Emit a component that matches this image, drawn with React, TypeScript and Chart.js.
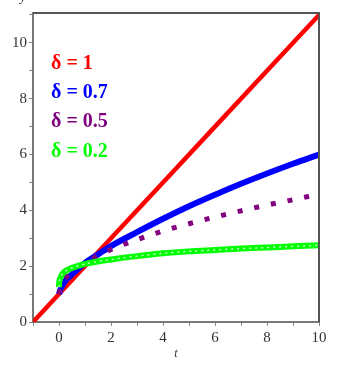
import React, { useEffect, useRef } from "react";
import { Chart, registerables } from "chart.js";

Chart.register(...registerables);

// Data
const tRed = [-1, 0, 2, 4, 6, 8, 10];
const yRed = [0, 1, 3, 5, 7, 9, 11];

const tBlue = [0, 0.05, 0.1, 0.2, 0.4, 0.7, 1, 1.5, 2, 3, 4, 5, 6, 7, 8, 9, 10];
const yBlue = [1.0, 1.15, 1.25, 1.42, 1.62, 1.87, 2.12, 2.42, 2.72, 3.22, 3.7, 4.15, 4.56, 4.95, 5.32, 5.67, 6.0];

const tPurple = [0, 0.1, 0.3, 0.6, 1, 1.5, 2, 3, 4, 5, 6, 7, 8, 9, 10];
const yPurple = [1.0, 1.36, 1.62, 1.87, 2.13, 2.38, 2.6, 2.95, 3.26, 3.52, 3.76, 3.98, 4.19, 4.38, 4.58];

const tGreen = [0, 0.005, 0.02, 0.05, 0.1, 0.2, 0.4, 0.7, 1, 1.5, 2, 3, 4, 5, 6, 7, 8, 9, 10];
const yGreen = [1.25, 1.38, 1.48, 1.57, 1.68, 1.79, 1.9, 2.0, 2.08, 2.17, 2.24, 2.36, 2.46, 2.53, 2.58, 2.63, 2.67, 2.71, 2.75];

const legendLabels = ["δ = 1", "δ = 0.7", "δ = 0.5", "δ = 0.2"];
const seriesColors = ["#ff0000", "#0000ff", "#800080", "#00ff00"];

const xTickValues = [-1, 0, 1, 2, 3, 4, 5, 6, 7, 8, 9, 10];
const yTickValues = [0, 1, 2, 3, 4, 5, 6, 7, 8, 9, 10, 11];

const pts = (xs: number[], ys: number[]) => xs.map((x, i) => ({ x, y: ys[i] }));

const framePlugin = {
  id: "frame",
  afterDraw(chart: any) {
    const { ctx, chartArea } = chart;
    ctx.save();
    ctx.lineWidth = 2;
    ctx.strokeStyle = "#555555";
    ctx.beginPath();
    ctx.moveTo(chartArea.left, chartArea.top);
    ctx.lineTo(chartArea.right, chartArea.top);
    ctx.lineTo(chartArea.right, chartArea.bottom);
    ctx.stroke();
    // legend text
    ctx.font = "bold 20px 'Liberation Serif', serif";
    ctx.textBaseline = "alphabetic";
    ctx.textAlign = "left";
    const baselines = [68.5, 97.5, 127, 157];
    legendLabels.forEach((lab, i) => {
      ctx.fillStyle = seriesColors[i];
      ctx.fillText(lab, 51, baselines[i]);
    });
    // cut-off y axis title
    ctx.fillStyle = "#333333";
    ctx.font = "italic 13px 'Liberation Serif', serif";
    ctx.fillText("y", 20, 1);
    ctx.restore();
  },
};

export default function App() {
  const ref = useRef<HTMLCanvasElement>(null);
  useEffect(() => {
    document.body.style.margin = "0";
    const chart = new Chart(ref.current!, {
      type: "scatter",
      data: {
        datasets: [
          {
            data: pts(tRed, yRed),
            showLine: true,
            borderColor: seriesColors[0],
            borderWidth: 4.5,
            pointRadius: 0,
            order: 5,
          },
          {
            data: pts(tBlue, yBlue),
            showLine: true,
            borderColor: seriesColors[1],
            borderWidth: 6,
            pointRadius: 0,
            cubicInterpolationMode: "monotone",
            order: 4,
          },
          {
            data: pts(tPurple, yPurple),
            showLine: true,
            borderColor: seriesColors[2],
            borderWidth: 5,
            borderDash: [5, 12],
            borderCapStyle: "butt",
            pointRadius: 0,
            cubicInterpolationMode: "monotone",
            order: 3,
          },
          {
            data: pts(tGreen, yGreen),
            showLine: true,
            borderColor: seriesColors[3],
            borderWidth: 6,
            pointRadius: 0,
            cubicInterpolationMode: "monotone",
            order: 2,
          },
          {
            data: pts(tGreen, yGreen),
            showLine: true,
            borderColor: "#c8ffc8",
            borderWidth: 1.5,
            borderDash: [2, 4],
            pointRadius: 0,
            cubicInterpolationMode: "monotone",
            order: 1,
          },
        ],
      } as any,
      options: {
        animation: false,
        responsive: false,
        maintainAspectRatio: false,
        layout: { padding: { top: 13, right: 19, left: 0, bottom: 0 } },
        plugins: { legend: { display: false }, tooltip: { enabled: false } },
        scales: {
          x: {
            type: "linear",
            min: -1,
            max: 10,
            afterBuildTicks: (s: any) => {
              s.ticks = xTickValues.map((v) => ({ value: v }));
            },
            afterFit: (s: any) => {
              s.height = 46;
            },
            ticks: {
              autoSkip: false,
              maxRotation: 0,
              padding: 3,
              color: "#333333",
              font: { family: "'Liberation Serif', serif", size: 15 },
              callback: (v: any) => (Number(v) >= 0 && Number(v) % 2 === 0 ? String(v) : ""),
            },
            grid: { drawOnChartArea: false, drawTicks: true, tickLength: 4, color: "#888888" },
            border: { display: true, color: "#777777", width: 2 },
            title: {
              display: true,
              text: "t",
              color: "#333333",
              font: { family: "'Liberation Serif', serif", size: 12, style: "italic" },
              padding: { top: 0, bottom: 7 },
            },
          },
          y: {
            type: "linear",
            min: 0,
            max: 11.07,
            afterBuildTicks: (s: any) => {
              s.ticks = yTickValues.map((v) => ({ value: v }));
            },
            afterFit: (s: any) => {
              s.width = 33;
            },
            ticks: {
              autoSkip: false,
              padding: 2,
              color: "#333333",
              font: { family: "'Liberation Serif', serif", size: 15 },
              callback: (v: any) => (Number(v) % 2 === 0 ? String(v) : ""),
            },
            grid: { drawOnChartArea: false, drawTicks: true, tickLength: 4, color: "#888888" },
            border: { display: true, color: "#777777", width: 2 },
          },
        },
      },
      plugins: [framePlugin],
    });
    return () => chart.destroy();
  }, []);
  return (
    <div style={{ position: "absolute", left: 0, top: 0, width: 338, height: 368 }}>
      <canvas ref={ref} width={338} height={368} style={{ width: 338, height: 368 }} />
    </div>
  );
}
